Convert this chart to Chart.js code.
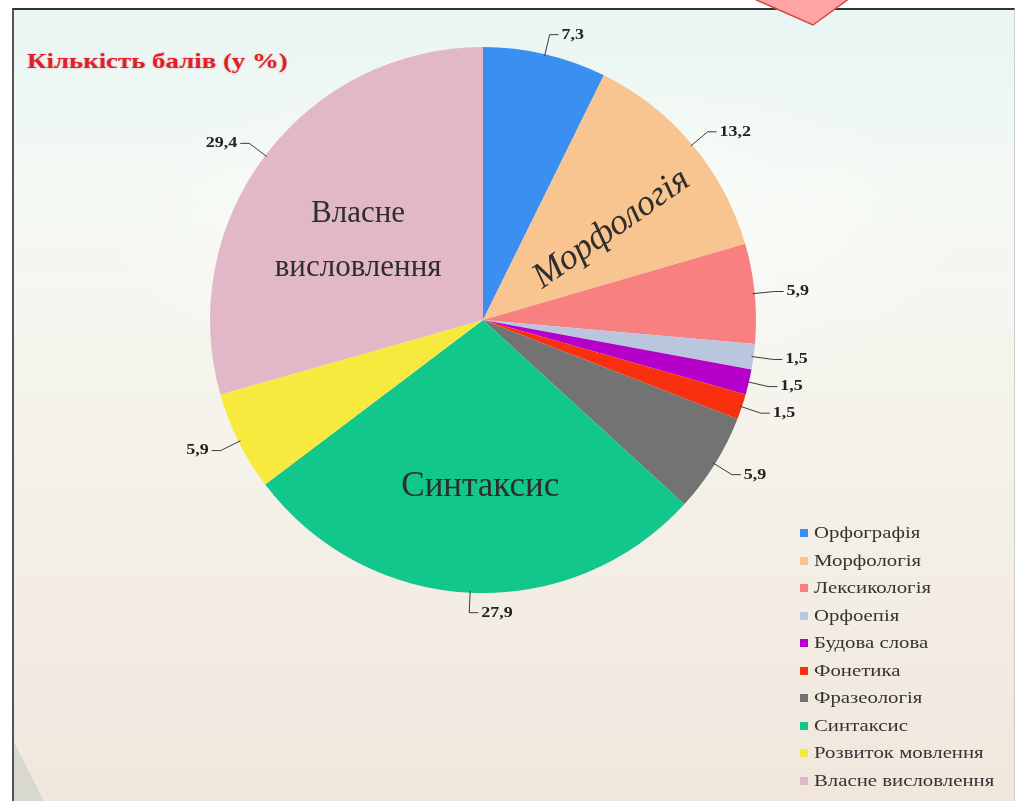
<!DOCTYPE html>
<html>
<head>
<meta charset="utf-8">
<script src="https://cdn.jsdelivr.net/npm/chart.js@4.4.1/dist/chart.umd.min.js"></script>
<style>
  body {
    margin: 0;
    width: 1018px;
    height: 801px;
    overflow: hidden;
    position: relative;
    background: #fff;
    font-family: "Liberation Serif", serif;
  }
  .slide {
    position: absolute;
    left: 12px;
    top: 8px;
    width: 1000px;
    height: 800px;
    border-left: 2px solid #555;
    border-top: 2px solid #333;
    border-right: 1px solid #ccc;
    background:
      radial-gradient(ellipse 620px 260px at 520px 230px, rgba(255,255,255,0.75), rgba(255,255,255,0) 70%),
      linear-gradient(180deg, #e9f6f4 0%, #f4f9f3 22%, #f5f2ea 55%, #f0e6dc 100%);
  }
  .title {
    position: absolute;
    left: 27px;
    top: 48px;
    font: bold 22px "Liberation Serif", serif;
    color: #de1f2c;
    text-shadow: 0 0 2px rgba(230, 60, 70, 0.4);
    transform: scaleX(1.22);
    transform-origin: left center;
    white-space: nowrap;
  }
  #chart {
    position: absolute;
    left: 0;
    top: 0;
  }
  .legend {
    position: absolute;
    left: 800px;
    top: 523px;
    font: 16px "Liberation Serif", serif;
    color: #333;
  }
  .legend div {
    height: 27.5px;
    line-height: 20px;
    white-space: nowrap;
  }
  .legend span.mark {
    display: inline-block;
    width: 8px;
    height: 8px;
    margin-right: 6px;
    vertical-align: 1px;
  }
  .legend span.name {
    display: inline-block;
    transform: scaleX(1.3);
    transform-origin: left center;
  }
  svg.deco {
    position: absolute;
    left: 0;
    top: 0;
  }
</style>
</head>
<body>
<div class="slide"></div>
<svg class="deco" width="1018" height="801">
  <polygon points="752,-2 850,-2 813,25" fill="#ffa3a3" stroke="#cf4b4b" stroke-width="1.5"/>
  <polygon points="14,742 44,801 14,801" fill="#d9d8cf"/>
</svg>
<div class="title">Кількість балів (у %)</div>
<canvas id="chart" width="1018" height="801"></canvas>
<div class="legend" id="legend"></div>

<script>
const categories = [
  "Орфографія",
  "Морфологія",
  "Лексикологія",
  "Орфоепія",
  "Будова слова",
  "Фонетика",
  "Фразеологія",
  "Синтаксис",
  "Розвиток мовлення",
  "Власне висловлення"
];
const scores = [7.3, 13.2, 5.9, 1.5, 1.5, 1.5, 5.9, 27.9, 5.9, 29.4];
const sliceColors = [
  "#3a8ff0",
  "#f8c590",
  "#f88080",
  "#b9c6dd",
  "#b400c8",
  "#f8300f",
  "#737373",
  "#12c78b",
  "#f8e93e",
  "#e2b8c9"
];
// big captions written inside some slices
const sliceCaptions = [
  { index: 9, lines: ["Власне", "висловлення"], dist: 0.5, dx: -16, dy: 3, size: 31, italic: false, rotate: 0 },
  { index: 1, lines: ["Морфологія"], dist: 0.6, dx: 3, dy: 14, size: 36, italic: true, rotate: -35 },
  { index: 7, lines: ["Синтаксис"], dist: 0.6, dx: 5, dy: 3, size: 35, italic: false, rotate: 0 }
];

const legendBox = document.getElementById("legend");
categories.forEach((name, i) => {
  const row = document.createElement("div");
  const mark = document.createElement("span");
  mark.className = "mark";
  mark.style.background = sliceColors[i];
  const text = document.createElement("span");
  text.className = "name";
  text.innerText = name;
  row.appendChild(mark);
  row.appendChild(text);
  legendBox.appendChild(row);
});

const labelPlugin = {
  id: "sliceLabels",
  afterDatasetsDraw(chart) {
    const ctx = chart.ctx;
    const meta = chart.getDatasetMeta(0);
    ctx.save();
    meta.data.forEach((arc, i) => {
      const { x, y, outerRadius, startAngle, endAngle } = arc.getProps(
        ["x", "y", "outerRadius", "startAngle", "endAngle"],
        true
      );
      const mid = (startAngle + endAngle) / 2;
      const cos = Math.cos(mid);
      const sin = Math.sin(mid);
      const x0 = x + cos * (outerRadius - 2);
      const y0 = y + sin * (outerRadius - 2);
      const x1 = x + cos * (outerRadius + 20);
      const y1 = y + sin * (outerRadius + 20);
      const right = cos >= -0.1;
      const x2 = x1 + (right ? 9 : -9);
      ctx.strokeStyle = "#3a3a3a";
      ctx.lineWidth = 1;
      ctx.beginPath();
      ctx.moveTo(x0, y0);
      ctx.lineTo(x1, y1);
      ctx.lineTo(x2, y1);
      ctx.stroke();
      ctx.save();
      ctx.translate(x2 + (right ? 3 : -3), y1);
      ctx.scale(1.2, 1);
      ctx.fillStyle = "#222";
      ctx.font = "bold 15px 'Liberation Serif', serif";
      ctx.textBaseline = "middle";
      ctx.textAlign = right ? "left" : "right";
      const text = String(scores[i]).replace(".", ",");
      ctx.fillText(text, 0, 0);
      ctx.restore();
    });

    sliceCaptions.forEach((cap) => {
      const arc = meta.data[cap.index];
      const { x, y, outerRadius, startAngle, endAngle } = arc.getProps(
        ["x", "y", "outerRadius", "startAngle", "endAngle"],
        true
      );
      const mid = (startAngle + endAngle) / 2;
      const cx = x + Math.cos(mid) * outerRadius * cap.dist + cap.dx;
      const cy = y + Math.sin(mid) * outerRadius * cap.dist + cap.dy;
      ctx.save();
      ctx.translate(cx, cy);
      ctx.rotate((cap.rotate * Math.PI) / 180);
      ctx.fillStyle = "#2e2e2e";
      ctx.font = (cap.italic ? "italic " : "") + cap.size + "px 'Liberation Serif', serif";
      ctx.textAlign = "center";
      ctx.textBaseline = "middle";
      const lh = cap.size * 1.72;
      const top = -((cap.lines.length - 1) * lh) / 2;
      cap.lines.forEach((line, k) => ctx.fillText(line, 0, top + k * lh));
      ctx.restore();
    });
    ctx.restore();
  }
};

const config = {
  type: "pie",
  data: {
    labels: categories,
    datasets: [
      {
        data: scores,
        backgroundColor: sliceColors,
        borderWidth: 0
      }
    ]
  },
  options: {
    responsive: false,
    animation: false,
    devicePixelRatio: 1,
    layout: {
      padding: { left: 210, right: 262, top: 47, bottom: 208 }
    },
    plugins: {
      legend: { display: false },
      tooltip: { enabled: false }
    }
  },
  plugins: [labelPlugin]
};

const myChart = new Chart(document.getElementById("chart"), config);
</script>
</body>
</html>
